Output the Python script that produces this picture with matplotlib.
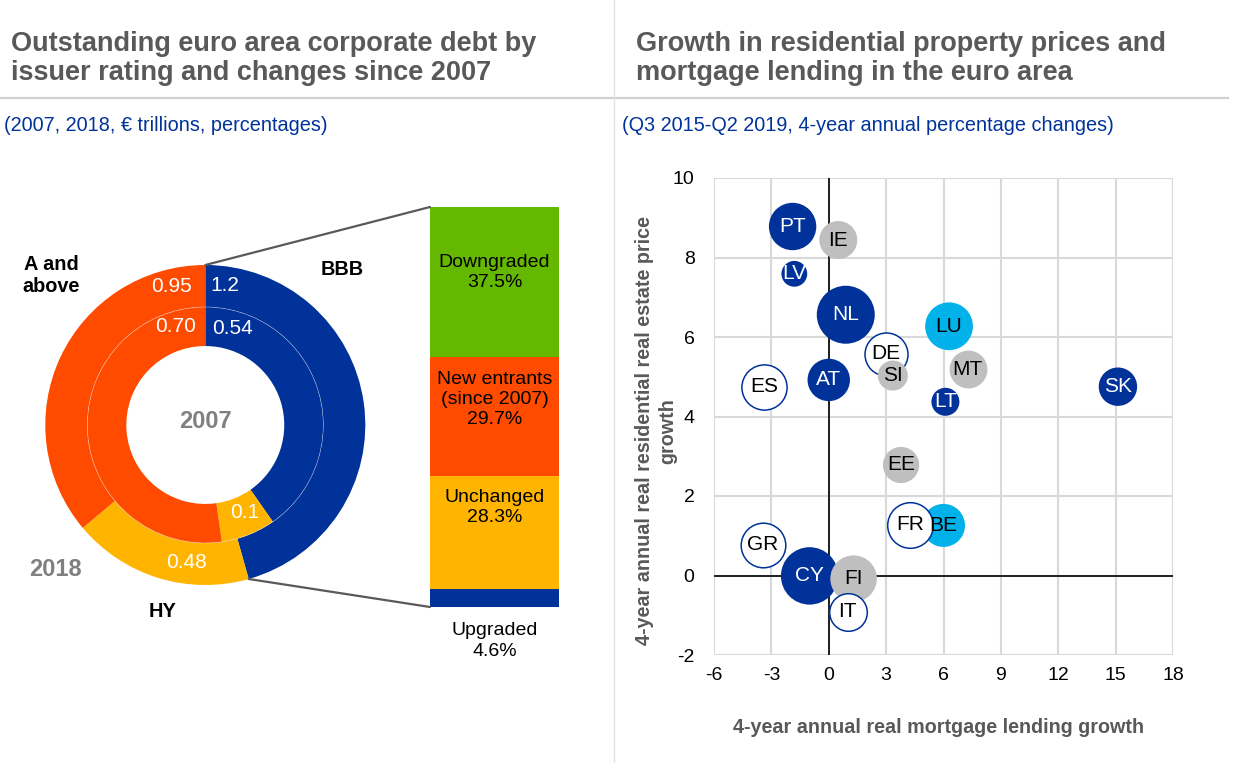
import numpy as np
import matplotlib.pyplot as plt
from matplotlib.patches import ConnectionPatch
from matplotlib.lines import Line2D

plt.rcParams['font.family'] = ['Liberation Sans', 'DejaVu Sans']
plt.rcParams['axes.unicode_minus'] = False

# Left panel: euro area corporate debt by rating (EUR trillions)
ratings = ['BBB', 'HY', 'A and above']
debt_2018 = [1.2, 0.48, 0.95]
debt_2007 = [0.54, 0.1, 0.70]
labels_2018 = ['1.2', '0.48', '0.95']
labels_2007 = ['0.54', '0.1', '0.70']

# Changes since 2007 for the 2018 BBB bucket (percentages)
change_cats = ['Upgraded', 'Unchanged', 'New entrants\n(since 2007)', 'Downgraded']
change_pct = [4.6, 28.3, 29.7, 37.5]

# Right panel: 4-year annual real growth rates
countries = ['PT', 'IE', 'LV', 'NL', 'LU', 'DE', 'SI', 'MT', 'ES', 'AT',
             'SK', 'LT', 'EE', 'BE', 'FR', 'GR', 'CY', 'FI', 'IT']
lending = [-1.89, 0.50, -1.80, 0.89, 6.29, 2.98, 3.35, 7.26, -3.37, 0.0,
           15.12, 6.10, 3.78, 6.0, 4.27, -3.44, -1.0, 1.30, 1.0]
prices = [8.78, 8.44, 7.59, 6.56, 6.27, 5.58, 5.03, 5.19, 4.75, 4.92,
          4.75, 4.37, 2.78, 1.26, 1.28, 0.77, -0.01, -0.08, -0.91]
bubble = [23.7, 19.0, 12.9, 29.0, 23.9, 21.5, 15.0, 19.7, 22.6, 21.2,
          19.2, 14.0, 18.1, 21.5, 22.8, 22.3, 28.7, 23.3, 18.8]
group = ['dark', 'grey', 'dark', 'dark', 'light', 'white', 'grey', 'grey', 'white', 'dark',
         'dark', 'dark', 'grey', 'light', 'white', 'white', 'dark', 'grey', 'white']

BLUE = '#003299'
YELLOW = '#ffb400'
RED = '#ff4b00'
GREEN = '#65b800'
GREY_TXT = '#595959'

rating_colors = [BLUE, YELLOW, RED]
change_colors = [BLUE, YELLOW, RED, GREEN]

fig = plt.figure(figsize=(12.4, 7.63), dpi=100)
W, H = 1240, 763


def fx(px):
    return px / W


def fy(py):
    return 1 - py / H


# Titles, subtitles and separators
fig.text(fx(11), fy(80), 'Outstanding euro area corporate debt by\nissuer rating and changes since 2007',
         fontsize=19.5, fontweight='bold', color=GREY_TXT, va='baseline', linespacing=1.13)
fig.text(fx(636), fy(80), 'Growth in residential property prices and\nmortgage lending in the euro area',
         fontsize=19.5, fontweight='bold', color=GREY_TXT, va='baseline', linespacing=1.13)
fig.text(fx(4), fy(131), '(2007, 2018, \u20ac trillions, percentages)',
         fontsize=14.3, color=BLUE, va='baseline')
fig.text(fx(622), fy(131), '(Q3 2015-Q2 2019, 4-year annual percentage changes)',
         fontsize=14.3, color=BLUE, va='baseline')
fig.add_artist(Line2D([0, fx(1228)], [fy(98), fy(98)], color='#d0d0d0', lw=1.6))
fig.add_artist(Line2D([fx(614), fx(614)], [0, 1], color='#e3e3e3', lw=1.0))

# Donut
ax_d = fig.add_axes([fx(205.3 - 160), fy(425 + 160), fx(320), 320 / H])
ax_d.pie(debt_2018, radius=1, startangle=90, counterclock=False, colors=rating_colors,
         wedgeprops=dict(width=0.2625, edgecolor='none'))
ax_d.pie(debt_2007, radius=0.7375, startangle=90, counterclock=False, colors=rating_colors,
         wedgeprops=dict(width=0.244, edgecolor='none'))
ax_d.add_patch(plt.Circle((0, 0), 0.7375, fill=False, ec='#f0f0f0', lw=0.4, alpha=0.6))
ax_d.set_xlim(-1, 1)
ax_d.set_ylim(-1, 1)
ax_d.set_aspect('equal')
ax_d.axis('off')


def polar(angle, r):
    a = np.deg2rad(angle)
    return r * np.sin(a), r * np.cos(a)


outer_pos = [(8, 0.88), (188, 0.866), (-13.7, 0.89)]
inner_pos = [(16, 0.625), (156, 0.6), (-16.6, 0.64)]
for lab, (ang, r) in zip(labels_2018, outer_pos):
    ax_d.text(*polar(ang, r), lab, color='white', fontsize=15, ha='center', va='center')
for lab, (ang, r) in zip(labels_2007, inner_pos):
    ax_d.text(*polar(ang, r), lab, color='white', fontsize=15, ha='center', va='center')

ax_d.text(0, 0.02, '2007', color='#808080', fontsize=17, fontweight='bold', ha='center', va='center')
ax_d.text(-0.939, -0.9, '2018', color='#808080', fontsize=17, fontweight='bold',
          ha='center', va='center', clip_on=False)
ax_d.text(-0.965, 0.9375, 'A and\nabove', fontsize=14.3, fontweight='bold', ha='center',
          va='center', clip_on=False, linespacing=1.2)
ax_d.text(0.853, 0.969, 'BBB', fontsize=14.3, fontweight='bold', ha='center', va='center', clip_on=False)
ax_d.text(-0.266, -1.167, 'HY', fontsize=14.3, fontweight='bold', ha='center', va='center', clip_on=False)

# Stacked bar of changes
ax_b = fig.add_axes([fx(430), fy(607), fx(129), 400 / H])
total = sum(change_pct)
bottoms = np.concatenate([[0], np.cumsum(change_pct)[:-1]])
ax_b.bar([0] * len(change_pct), change_pct, bottom=bottoms, width=1,
         color=change_colors, edgecolor='none')
ax_b.set_xlim(-0.5, 0.5)
ax_b.set_ylim(0, total)
ax_b.axis('off')

label_frac = [None, 0.715, 0.64, 0.565]
for cat, val, b, fr in zip(change_cats, change_pct, bottoms, label_frac):
    txt = f'{cat}\n{val:.1f}%'
    if fr is None:
        ax_b.text(0, -8.5, txt, fontsize=14, ha='center', va='center', clip_on=False, linespacing=1.25)
    else:
        ax_b.text(0, b + val * fr, txt, fontsize=14, ha='center', va='center', linespacing=1.22)

# Connector lines from donut to bar
bbb_end = 360 * debt_2018[0] / sum(debt_2018)
for pa, pb in [(polar(0, 1), (-0.5, total)), (polar(bbb_end, 1), (-0.5, 0))]:
    con = ConnectionPatch(xyA=pa, coordsA=ax_d.transData, xyB=pb, coordsB=ax_b.transData,
                          color='#595959', lw=1.6)
    fig.add_artist(con)

# Scatter
ax_s = fig.add_axes([fx(714), fy(655), fx(459), 477 / H])
face = {'dark': BLUE, 'light': '#00b1ea', 'grey': '#bfbfbf', 'white': 'white'}
edge = {'dark': 'none', 'light': 'none', 'grey': 'none', 'white': BLUE}
for i, (c, x, y, r, g) in enumerate(zip(countries, lending, prices, bubble, group)):
    ec = 'white' if c == 'MT' else edge[g]
    ax_s.scatter(x, y, s=(1.44 * r) ** 2, color=face[g], edgecolors=ec,
                 linewidths=1.1, zorder=3 + i * 0.01)
    ax_s.text(x, y, c, fontsize=15, ha='center', va='center', zorder=5,
              color='white' if g == 'dark' else 'black')

ax_s.axhline(0, color='black', lw=1.2, zorder=2)
ax_s.axvline(0, color='black', lw=1.2, zorder=2)
ax_s.set_xlim(-6, 18)
ax_s.set_ylim(-2, 10)
ax_s.set_xticks(np.arange(-6, 19, 3))
ax_s.set_yticks(np.arange(-2, 11, 2))
ax_s.grid(True, color='#d9d9d9', lw=1.5, zorder=0)
ax_s.set_axisbelow(True)
for sp in ax_s.spines.values():
    sp.set_visible(False)
ax_s.tick_params(length=0, labelsize=14, colors='black')
ax_s.tick_params(axis='x', pad=9)
ax_s.tick_params(axis='y', pad=14)
ax_s.set_xlabel('4-year annual real mortgage lending growth', fontsize=14.2,
                fontweight='bold', color=GREY_TXT)
ax_s.xaxis.set_label_coords(0.49, -0.151)
ax_s.xaxis.label.set_va('center')
ax_s.set_ylabel('4-year annual real residential real estate price\ngrowth', fontsize=14.2,
                fontweight='bold', color=GREY_TXT, linespacing=1.25)
ax_s.yaxis.set_label_coords(-0.126, 0.47)
ax_s.yaxis.label.set_va('center')

fig.savefig('out.png', dpi=100)
